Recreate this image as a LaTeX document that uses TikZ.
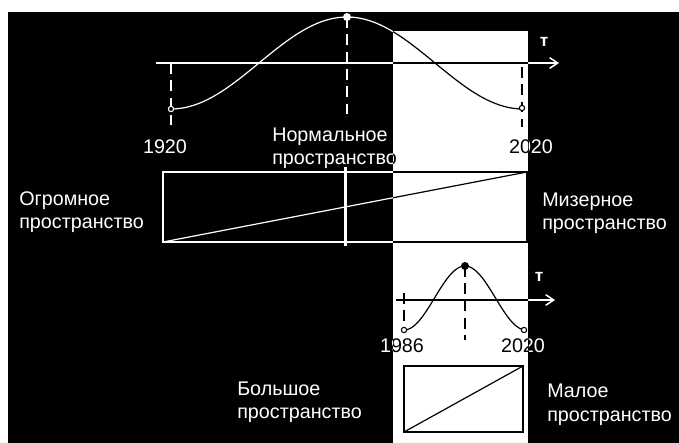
\documentclass[tikz,border=0pt]{standalone}
\usepackage{fontspec}
\setmainfont{Liberation Sans}
\usetikzlibrary{arrows.meta}

% whole drawing in one colour pair (#1 lines/text, #2 fill of open points)
\newcommand{\drawscene}[2]{%
% ---- Time axes ----
            \draw[axis,#1] (156,63) -- (559,63);
            \draw[axis,#1] (396,300) -- (555,300);
            \node[tlab,text=#1] (tbig) at (544,42) {т};
            \node[tlab,text=#1] (tsmall) at (539,277) {т};

% ---- Curves ----
            \draw[curve,#1] plot[domain=-180:180,samples=90,smooth] ({347+0.97778*\x},{63-46*cos(\x)});
            \draw[curve,#1] plot[domain=-180:180,samples=60,smooth] ({465+0.33889*\x},{298-32*cos(\x)});

% ---- Guide lines (dashed) ----
            \draw[guide,#1] (171,63) -- (171,125);
            \draw[guide,#1] (347,17) -- (347,117);
            \draw[guide,#1] (522,67) -- (522,127);
            \draw[guide,#1] (404,293) -- (404,328);
            \draw[guide,#1] (465,266) -- (465,340);

% ---- End points and peaks ----
            \draw[line width=0.8pt,#1,fill=#2] (171,109) circle (2pt);
            \draw[line width=0.8pt,#1,fill=#2] (522,108) circle (2pt);
            \draw[line width=0.8pt,#1,fill=#2] (404,330) circle (2pt);
            \draw[line width=0.8pt,#1,fill=#2] (524,330) circle (2pt);
            \fill[#1] (347,17) circle (3pt);
            \fill[#1] (465,266) circle (3pt);

% ---- Year labels ----
            \node[lab,text=#1,anchor=base] (y1920) at (165,153) {1920};
            \node[lab,text=#1,anchor=base] (y2020a) at (531,153) {2020};
            \node[lab,text=#1,anchor=base] (y1986) at (402,352) {1986};
            \node[lab,text=#1,anchor=base] (y2020b) at (523,352) {2020};

% ---- Space boxes ----
            \draw[frame,#1] (163,172) rectangle (527,242);
            \draw[curve,#1] (163,242) -- (527,172);
            \draw[#1,line width=2.25pt] (345,167) -- (345,246);
            \draw[frame,#1] (404,366) rectangle (523,432);
            \draw[curve,#1] (404,432) -- (523,366);

% ---- Space labels ----
            \node[lab,text=#1] (norm1) at (272,141) {Нормальное};
            \node[lab,text=#1] (norm2) at (272,164) {пространство};
            \node[lab,text=#1] (huge1) at (19,205) {Огромное};
            \node[lab,text=#1] (huge2) at (19,228) {пространство};
            \node[lab,text=#1] (mis1) at (542,206) {Мизерное};
            \node[lab,text=#1] (mis2) at (542,229) {пространство};
            \node[lab,text=#1] (big1) at (237,395) {Большое};
            \node[lab,text=#1] (big2) at (237,418) {пространство};
            \node[lab,text=#1] (small1) at (547,397) {Малое};
            \node[lab,text=#1] (small2) at (547,421) {пространство};
}

\begin{document}
\begin{tikzpicture}[x=0.75pt, y=-0.75pt, >={Straight Barb[length=6pt,width=8pt]},
    axis/.style={line width=1.1pt,->},
    curve/.style={line width=0.9pt},
    guide/.style={line width=0.9pt,dash pattern=on 8pt off 5pt},
    frame/.style={line width=1.1pt},
    lab/.style={font=\fontsize{14.8}{17}\selectfont,inner sep=0pt,anchor=base west},
    tlab/.style={font=\bfseries\fontsize{13}{13}\selectfont,inner sep=0pt}]

% ---- Background ----
            \useasboundingbox (0,0) rectangle (679,443);
            \fill[white] (0,0) rectangle (679,443);
            \fill[black] (8,12) rectangle (679,443);

% ---- Drawing on black ----
            \drawscene{white}{black}

% ---- Light strip (same drawing, inverted) ----
            \fill[white] (393,31) rectangle (528,443);
            \begin{scope}
                \clip (393,31) rectangle (528,443);
                \drawscene{black}{white}
            \end{scope}

\end{tikzpicture}
\end{document}
